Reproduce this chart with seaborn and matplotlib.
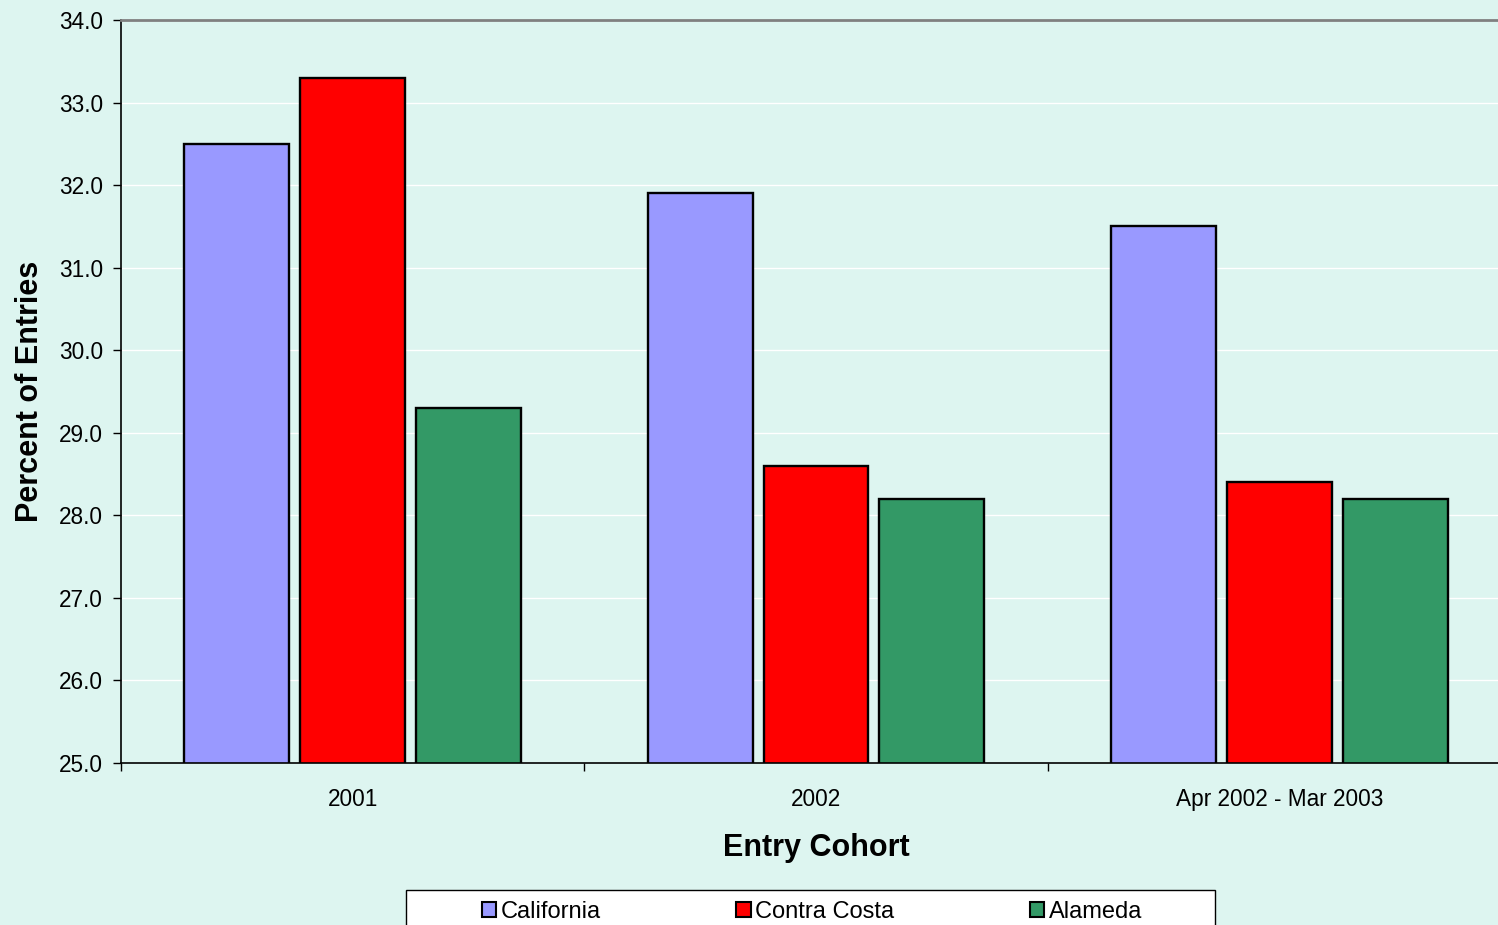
import matplotlib
matplotlib.use("Agg")
import matplotlib.pyplot as plt
import seaborn as sns
import pandas as pd
import numpy as np
from matplotlib.patches import Rectangle, Patch

# Chart data
cohorts = ["2001", "2002", "Apr 2002 - Mar 2003"]
regions = ["California", "Contra Costa", "Alameda"]
california = [32.5, 31.9, 31.5]
contra_costa = [33.3, 28.6, 28.4]
alameda = [29.3, 28.2, 28.2]
y_ticks = [25.0, 26.0, 27.0, 28.0, 29.0, 30.0, 31.0, 32.0, 33.0, 34.0]

colors = {"California": "#9999FF", "Contra Costa": "#FF0000", "Alameda": "#339966"}
bg = "#DDF5F0"

# Long table for seaborn
df = pd.DataFrame({
    "cohort": cohorts * 3,
    "region": [r for r in regions for _ in cohorts],
    "percent": california + contra_costa + alameda,
})

sns.set_style("white")
plt.rcParams["font.family"] = ["Liberation Sans", "DejaVu Sans"]
plt.rcParams["text.color"] = "black"
plt.rcParams["axes.labelcolor"] = "black"
plt.rcParams["xtick.color"] = "black"
plt.rcParams["ytick.color"] = "black"

fig = plt.figure(figsize=(14.98, 9.25), dpi=100, facecolor=bg)
ax = fig.add_axes([121 / 1498, 1 - 763 / 925, 1390 / 1498, 743 / 925])
ax.set_facecolor(bg)

sns.barplot(data=df, x="cohort", y="percent", hue="region", hue_order=regions,
            palette=colors, saturation=1, width=0.75, gap=0.095, edgecolor="black",
            linewidth=1.7, errorbar=None, legend=False, ax=ax)

ax.set_ylim(25, 34)
ax.set_xlim(-0.5, 2.5)
ax.set_axisbelow(True)
ax.yaxis.grid(True, color="white", linewidth=1)
ax.xaxis.grid(False)

# Axis ticks
ax.set_yticks(y_ticks, [f"{v:.1f}" for v in y_ticks])
ax.tick_params(axis="y", which="major", length=6, width=1, color="black",
               direction="out", left=True, pad=7, labelsize=16.3)
ax.set_xticks(range(len(cohorts)), cohorts)
ax.set_xticks([-0.5, 0.5, 1.5, 2.5], minor=True)
ax.tick_params(axis="x", which="major", length=0, pad=18, labelsize=16.3)
ax.tick_params(axis="x", which="minor", length=6, width=1, color="black",
               direction="out", bottom=True)

for side in ["left", "bottom"]:
    ax.spines[side].set_color("black")
    ax.spines[side].set_linewidth(1.2)
ax.spines["top"].set_color("#808080")
ax.spines["top"].set_linewidth(2)
ax.spines["right"].set_visible(False)

ax.set_xlabel("Entry Cohort", fontsize=22, fontweight="bold", labelpad=16)
ax.set_ylabel("Percent of Entries", fontsize=22, fontweight="bold", labelpad=10)

# Legend box at the bottom (cut off by the figure edge)
fig.patches.append(Rectangle((406 / 1498, -0.05), 809 / 1498, 0.05 + 35 / 925,
                             transform=fig.transFigure, facecolor="white",
                             edgecolor="black", linewidth=1, zorder=1))
handles = [Patch(facecolor=colors[r], edgecolor="black", linewidth=1.5, label=r)
           for r in regions]
fig.legend(handles=handles, loc="center", bbox_to_anchor=(812 / 1498, 1 - 912 / 925),
           ncol=3, frameon=False, fontsize=17, handlelength=0.6,
           handleheight=0.6, handletextpad=0.2, columnspacing=5.75)

fig.savefig("out.png", dpi=100, facecolor=bg)
